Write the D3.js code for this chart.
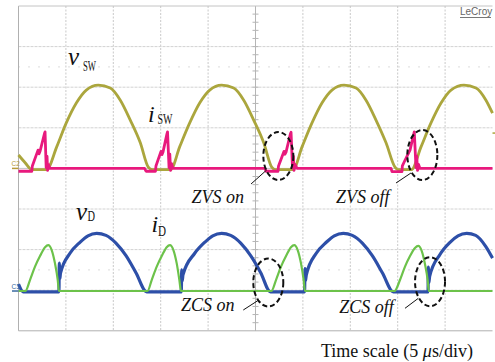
<!DOCTYPE html>
<html>
<head>
<meta charset="utf-8">
<script src="https://cdn.jsdelivr.net/npm/d3@7"></script>
<style>
  html, body { margin: 0; padding: 0; background: #fff; }
  svg { display: block; }
</style>
</head>
<body>
<div id="chart"></div>
<script>
// scope screen: 10 div x 5 us, 8 vertical div
const timeDomain = [0, 50];
const divDomain = [-4, 4];
const timeGrid = d3.range(5, 50, 5);
const divGrid = [-3, -2, -1, 1, 2, 3];
const dottedLevels = [2.5, -2.5];

// [time (us), level (div)]
const vSW = [
  [0, 0.33], [0.7, 0.14], [1.4, -0.03], [2.97, -0.03],
  [4.03, 0.53], [5.04, 1.12], [6.10, 1.61], [7.15, 1.93], [8.42, 2.05], [9.68, 1.98],
  [10.74, 1.68], [11.79, 1.19], [12.85, 0.63], [13.69, 0.03], [14.1, -0.03], [16.05, -0.03],
  [17.00, 0.53], [18.06, 1.12], [19.11, 1.61], [20.17, 1.93], [21.43, 2.05], [22.70, 1.98],
  [23.76, 1.68], [24.81, 1.19], [25.87, 0.63], [26.71, 0.03], [27.1, -0.03], [28.96, -0.03],
  [29.91, 0.53], [30.96, 1.12], [32.01, 1.61], [33.07, 1.93], [34.34, 2.05], [35.61, 1.98],
  [36.66, 1.68], [37.71, 1.19], [38.77, 0.63], [39.72, 0.03], [40.0, -0.03], [41.45, -0.03],
  [42.46, 0.53], [43.51, 1.12], [44.57, 1.61], [45.62, 1.93], [46.99, 2.05], [48.26, 1.98],
  [49.31, 1.68], [50, 1.36]
];

const iSW = [
  [0, -0.07], [1.40, -0.07], [1.46, 0.06], [2.06, 0.45], [2.17, 0.36], [2.27, 0.42], [2.74, 0.86],
  [2.80, 0.90], [2.92, 0.02], [3.01, 0.30], [3.07, -0.05], [3.16, 0.10], [3.30, 0.0],
  [13.3, 0.0], [13.45, -0.07], [14.45, -0.07], [14.50, 0.06], [15.03, 0.42], [15.13, 0.34],
  [15.24, 0.40], [15.66, 0.85], [15.72, 0.90], [15.88, 0.02], [15.96, 0.35], [16.04, -0.05],
  [16.14, 0.12], [16.30, 0.0],
  [26.0, 0.0], [26.11, -0.07], [27.37, -0.07], [27.43, 0.06], [28.01, 0.42], [28.11, 0.35],
  [28.22, 0.40], [28.69, 0.86], [28.75, 0.89], [28.90, 0.02], [28.99, 0.30], [29.06, -0.05],
  [29.17, 0.10], [29.38, 0.0],
  [39.3, 0.0], [39.40, -0.08], [40.45, -0.08], [40.49, 0.06], [40.77, 0.20], [41.09, 0.35],
  [41.30, 0.45], [41.70, 0.85], [41.75, 0.90], [41.93, 0.02], [42.01, 0.30], [42.09, -0.05],
  [42.19, 0.10], [42.35, 0.0], [50, 0.0]
];

const vD = [
  [0, 0.17], [0.51, -0.02], [4.27, -0.02], [4.30, 0.69], [4.36, 0.30], [4.43, 0.44],
  [5.43, 0.93], [6.48, 1.20], [7.33, 1.36], [8.25, 1.42], [9.23, 1.37], [10.28, 1.18],
  [11.34, 0.87], [12.39, 0.45], [13.52, -0.02], [17.17, -0.02],
  [17.22, 0.52], [17.27, 0.25], [17.35, 0.40], [18.59, 0.93], [19.64, 1.20], [20.49, 1.36],
  [21.43, 1.42], [22.38, 1.37], [23.44, 1.18], [24.49, 0.87], [25.55, 0.45], [26.58, -0.02],
  [30.18, -0.02],
  [30.22, 0.55], [30.27, 0.25], [30.36, 0.40], [31.41, 0.93], [32.47, 1.20], [33.31, 1.36],
  [34.26, 1.42], [35.21, 1.37], [36.27, 1.18], [37.32, 0.87], [38.38, 0.45], [39.54, -0.02],
  [43.20, -0.02],
  [43.23, 0.59], [43.28, 0.20], [43.37, 0.36], [44.46, 0.90], [45.52, 1.20], [46.36, 1.36],
  [47.28, 1.42], [48.23, 1.37], [49.28, 1.10], [50, 0.81]
];

const iD = [
  [0, 0], [0.72, 0], [1.21, 0.27], [1.74, 0.60], [2.27, 0.86], [2.80, 1.08], [3.14, 1.13],
  [3.50, 1.01], [3.85, 0.68], [4.14, 0.27], [4.27, 0],
  [13.61, 0], [14.05, 0.27], [14.58, 0.60], [15.11, 0.86], [15.63, 1.08], [15.98, 1.13],
  [16.34, 1.01], [16.69, 0.68], [16.97, 0.27], [17.14, 0],
  [26.67, 0], [27.16, 0.27], [27.69, 0.60], [28.22, 0.86], [28.74, 1.08], [29.09, 1.13],
  [29.45, 1.01], [29.80, 0.68], [30.08, 0.27], [30.22, 0],
  [39.66, 0], [40.24, 0.27], [40.77, 0.60], [41.30, 0.86], [41.82, 1.06], [42.17, 1.11],
  [42.53, 0.99], [42.88, 0.66], [43.16, 0.27], [43.28, 0], [50, 0]
];

const width = 495, height = 362;
const plot = { left: 18.5, right: 492.5, top: 6, bottom: 330.8 };
const serif = '"Liberation Serif", "Times New Roman", serif';

const channels = [
  { data: vSW, offset: 0, color: '#aba63d', width: 2.8, curve: d3.curveMonotoneX },
  { data: iSW, offset: 0, color: '#e8197d', width: 2.8, curve: d3.curveLinear },
  { data: vD, offset: -3.02, color: '#2d4fa8', width: 3.2, curve: d3.curveMonotoneX },
  { data: iD, offset: -3.02, color: '#6cc24a', width: 2.2, curve: d3.curveMonotoneX }
];

const markers = [
  { label: 'C2', level: 0, color: '#b89a3a' },
  { label: 'C3', level: -3.02, color: '#3a6aa0' }
];

const traceLabels = [
  { main: 'v', sub: 'SW', t: 5.22, v: 2.55, size: 25, dx: 15, dy: 6, len: 13 },
  { main: 'i', sub: 'SW', t: 13.66, v: 1.14, size: 24, dx: 9.5, dy: 1.5, len: 15 },
  { main: 'v', sub: 'D', t: 6.07, v: -1.27, size: 25, dx: 11.5, dy: 1, len: 7.5 },
  { main: 'i', sub: 'D', t: 14.03, v: -1.57, size: 24, dx: 6.5, dy: 4, len: 8 }
];

// dashed rings with leader lines and captions
const notes = [
  { text: 'ZVS on', cx: 27.41, cy: 0.305, rx: 15, ry: 24, lead: [[24.53, -0.384], [26.18, -0.039]], tx: 18.25, ty: -0.84 },
  { text: 'ZVS off', cx: 42.6, cy: 0.33, rx: 15, ry: 25, lead: [[39.82, -0.36], [41.40, -0.113]], tx: 33.49, ty: -0.84 },
  { text: 'ZCS on', cx: 26.35, cy: -2.81, rx: 15, ry: 24, lead: [[23.71, -3.488], [25.23, -3.259]], tx: 17.14, ty: -3.51 },
  { text: 'ZCS off', cx: 43.41, cy: -2.79, rx: 15, ry: 24.5, lead: [[40.77, -3.446], [42.17, -3.2]], tx: 33.84, ty: -3.56 }
];

const x = d3.scaleLinear().domain(timeDomain).range([plot.left, plot.right]);
const y = d3.scaleLinear().domain(divDomain).range([plot.bottom, plot.top]);

const svg = d3.select('#chart')
  .append('svg')
  .attr('width', width)
  .attr('height', height)
  .style('background', '#fff');

// grid
const grid = svg.append('g');

grid.selectAll('line.vgrid')
  .data(timeGrid.filter(t => t !== 25))
  .join('line')
  .attr('class', 'vgrid')
  .attr('x1', d => x(d)).attr('x2', d => x(d))
  .attr('y1', plot.top).attr('y2', plot.bottom)
  .attr('stroke', '#c9c9c9')
  .attr('stroke-dasharray', '2,1.5');

grid.selectAll('line.hgrid')
  .data(divGrid)
  .join('line')
  .attr('class', 'hgrid')
  .attr('x1', plot.left).attr('x2', plot.right)
  .attr('y1', d => y(d)).attr('y2', d => y(d))
  .attr('stroke', '#d2d2d2')
  .attr('stroke-dasharray', '3,1');

grid.selectAll('line.dotted')
  .data(dottedLevels)
  .join('line')
  .attr('class', 'dotted')
  .attr('x1', plot.left).attr('x2', plot.right)
  .attr('y1', d => y(d)).attr('y2', d => y(d))
  .attr('stroke', '#b8b8b8')
  .attr('stroke-dasharray', '1,9');

// centre cross, minor ticks on the vertical one
grid.append('line')
  .attr('x1', x(25)).attr('x2', x(25))
  .attr('y1', plot.top).attr('y2', plot.bottom)
  .attr('stroke', '#b5b5b5');
grid.append('line')
  .attr('x1', plot.left).attr('x2', plot.right)
  .attr('y1', y(0)).attr('y2', y(0))
  .attr('stroke', '#c4c4c4');

grid.selectAll('line.vtick')
  .data(d3.range(-3.8, 4, 0.2))
  .join('line')
  .attr('class', 'vtick')
  .attr('x1', x(25) - 3).attr('x2', x(25) + 3)
  .attr('y1', d => y(d)).attr('y2', d => y(d))
  .attr('stroke', '#b5b5b5');

// frame
grid.append('line')
  .attr('x1', plot.left).attr('x2', plot.left)
  .attr('y1', plot.top).attr('y2', plot.bottom)
  .attr('stroke', '#b0b0b0');
grid.append('line')
  .attr('x1', plot.left).attr('x2', plot.right)
  .attr('y1', plot.top).attr('y2', plot.top)
  .attr('stroke', '#c4c4c4');
grid.append('line')
  .attr('x1', plot.left).attr('x2', plot.right)
  .attr('y1', plot.bottom).attr('y2', plot.bottom)
  .attr('stroke', '#b0b0b0');

// traces
const traces = svg.append('g');
channels.forEach(ch => {
  const line = d3.line()
    .x(d => x(d[0]))
    .y(d => y(d[1] + ch.offset))
    .curve(ch.curve);
  traces.append('path')
    .datum(ch.data)
    .attr('d', line)
    .attr('fill', 'none')
    .attr('stroke', ch.color)
    .attr('stroke-width', ch.width)
    .attr('stroke-linejoin', 'round');
});

// channel ground markers
const mk = svg.append('g');
markers.forEach(m => {
  mk.append('line')
    .attr('x1', plot.left - 6.5).attr('x2', plot.left)
    .attr('y1', y(m.level)).attr('y2', y(m.level))
    .attr('stroke', m.color)
    .attr('stroke-width', 1.5);
  mk.append('text')
    .attr('x', plot.left - 7)
    .attr('y', y(m.level) - 2.5)
    .attr('font-family', '"Liberation Sans", Arial, sans-serif')
    .attr('font-size', 6.5)
    .attr('fill', m.color)
    .text(m.label);
});
mk.append('line')
  .attr('x1', plot.right).attr('x2', plot.right + 2.5)
  .attr('y1', y(0.87)).attr('y2', y(0.87))
  .attr('stroke', '#aba63d')
  .attr('stroke-width', 1.5);

// trace names
const lab = svg.append('g').attr('font-family', serif).attr('fill', '#111');
traceLabels.forEach(l => {
  const g = lab.append('g').attr('transform', `translate(${x(l.t)},${y(l.v)})`);
  g.append('text')
    .attr('font-style', 'italic')
    .attr('font-size', l.size)
    .text(l.main);
  g.append('text')
    .attr('x', l.dx)
    .attr('y', l.dy)
    .attr('font-size', 15)
    .attr('textLength', l.len)
    .attr('lengthAdjust', 'spacingAndGlyphs')
    .text(l.sub);
});

// annotations
const ann = svg.append('g');
notes.forEach(n => {
  ann.append('ellipse')
    .attr('cx', x(n.cx)).attr('cy', y(n.cy))
    .attr('rx', n.rx).attr('ry', n.ry)
    .attr('fill', 'none')
    .attr('stroke', '#111')
    .attr('stroke-width', 2)
    .attr('stroke-dasharray', '5,3');
  ann.append('line')
    .attr('x1', x(n.lead[0][0])).attr('y1', y(n.lead[0][1]))
    .attr('x2', x(n.lead[1][0])).attr('y2', y(n.lead[1][1]))
    .attr('stroke', '#111')
    .attr('stroke-width', 1);
  ann.append('text')
    .attr('x', x(n.tx)).attr('y', y(n.ty))
    .attr('font-family', serif)
    .attr('font-style', 'italic')
    .attr('font-size', 18)
    .attr('fill', '#111')
    .text(n.text);
});

// brand + time base caption
svg.append('text')
  .attr('x', 460).attr('y', 15)
  .attr('font-family', '"Liberation Sans", Arial, sans-serif')
  .attr('font-size', 10)
  .attr('fill', '#666')
  .text('LeCroy');
svg.append('line')
  .attr('x1', 460).attr('x2', 491)
  .attr('y1', 17.5).attr('y2', 17.5)
  .attr('stroke', '#777');

const cap = svg.append('text')
  .attr('x', 321).attr('y', 357)
  .attr('font-family', serif)
  .attr('font-size', 18)
  .attr('fill', '#111');
cap.append('tspan').text('Time scale (5 ');
cap.append('tspan').attr('font-style', 'italic').text('μ');
cap.append('tspan').text('s/div)');
</script>
</body>
</html>
